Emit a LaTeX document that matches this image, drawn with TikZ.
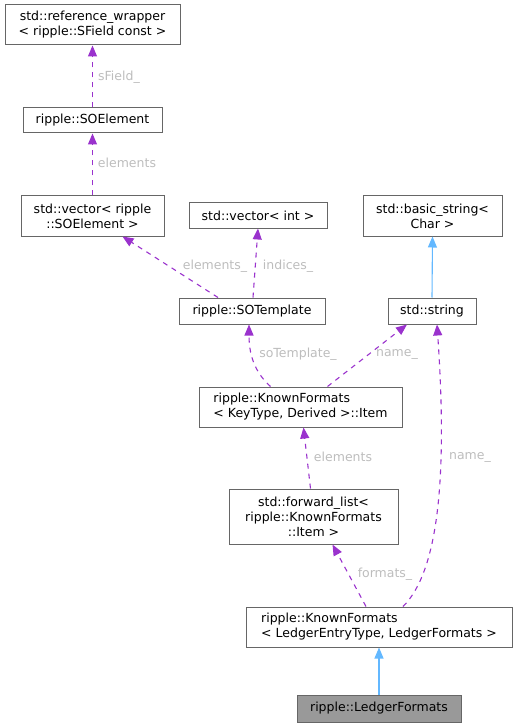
\documentclass[tikz,border=0pt]{standalone}
\usepackage{fontspec}
\setmainfont{DejaVu Sans}
\usepackage{xcolor}
\usepackage{tikz}
\usetikzlibrary{arrows.meta,positioning,calc}

\definecolor{edgepurple}{HTML}{9A32CD}
\definecolor{edgeblue}{HTML}{63B8FF}
\definecolor{boxgray}{HTML}{666666}
\definecolor{lblgray}{HTML}{BDBDBD}
\definecolor{curfill}{HTML}{999999}

\tikzset{
  cls/.style={draw=boxgray, line width=1pt, fill=white, inner sep=0pt, align=center,
    font=\fontsize{12.5}{15}\selectfont},
  usage/.style={draw=edgepurple, line width=1.1pt, dash pattern=on 5pt off 5pt,
    -{Triangle[length=11pt,width=9pt]}},
  inherit/.style={draw=edgeblue, line width=1.1pt, -{Triangle[length=11pt,width=9pt]}},
  lbl/.style={text=lblgray, inner sep=0pt, font=\fontsize{12.5}{15}\selectfont}
}

\begin{document}
\begin{tikzpicture}[x=1pt,y=-1pt]
    \useasboundingbox (0,0) rectangle (517,727);
    \node[cls, minimum width=175pt, minimum height=40pt] (refwrap) at (92.5,25) {std::reference\_wrapper\\< ripple::SField const >};
    \node[cls, minimum width=139pt, minimum height=25pt] (soelem) at (92.5,120.5) {ripple::SOElement};
    \node[cls, minimum width=143pt, minimum height=40pt] (vecsoelem) at (92.5,216) {std::vector< ripple\\::SOElement >};
    \node[cls, minimum width=138pt, minimum height=25pt] (vecint) at (258,215.5) {std::vector< int >};
    \node[cls, minimum width=139pt, minimum height=40pt] (basicstr) at (432.5,216) {std::basic\_string<\\Char >};
    \node[cls, minimum width=146pt, minimum height=26pt] (sotemplate) at (252,311) {ripple::SOTemplate};
    \node[cls, minimum width=88pt, minimum height=26pt] (stdstring) at (432,311) {std::string};
    \node[cls, align=left, minimum width=203pt, minimum height=40pt] (kfitem) at (300.5,407) {ripple::KnownFormats\\< KeyType, Derived >::Item};
    \node[cls, minimum width=169pt, minimum height=55pt] (fwdlist) at (313.5,516.5) {std::forward\_list<\\ripple::KnownFormats\\::Item >};
    \node[cls, align=left, minimum width=266pt, minimum height=40pt] (kfledger) at (379,627) {ripple::KnownFormats\\< LedgerEntryType, LedgerFormats >};
    \node[cls, fill=curfill, minimum width=164pt, minimum height=27pt] (ledger) at (379,708.5) {ripple::LedgerFormats};

    \draw[usage] (soelem.north) -- (refwrap.south);
    \draw[usage] (vecsoelem.north) -- (soelem.south);
    \draw[usage] ([xshift=-34pt]sotemplate.north) -- ([xshift=30pt]vecsoelem.south);
    \draw[usage] ([xshift=1pt]sotemplate.north) -- (vecint.south);
    \draw[usage] ([xshift=-30pt]kfitem.north) .. controls (258,375) and (249,360) .. ([xshift=-3pt]sotemplate.south);
    \draw[usage] ([xshift=27pt]kfitem.north) -- ([xshift=-25pt]stdstring.south);
    \draw[inherit] (stdstring.north) -- (basicstr.south);
    \draw[usage] ([xshift=-3pt]fwdlist.north) -- ([xshift=3pt]kfitem.south);
    \draw[usage] ([xshift=-13pt]kfledger.north) -- ([xshift=19pt]fwdlist.south);
    \draw[usage] ([xshift=24pt]kfledger.north) .. controls (440,570) and (447,470) .. ([xshift=5pt]stdstring.south);
    \draw[inherit] (ledger.north) -- (kfledger.south);

    \node[lbl] (lsfield) at (119,77) {sField\_};
    \node[lbl] (lelem) at (127,163) {elements};
    \node[lbl] (lelemu) at (215,266) {elements\_};
    \node[lbl] (lindices) at (288,266) {indices\_};
    \node[lbl] (lsotempl) at (298,354) {soTemplate\_};
    \node[lbl] (lname) at (397,354) {name\_};
    \node[lbl] (lelemfl) at (343,457) {elements};
    \node[lbl] (lnamer) at (470,457) {name\_};
    \node[lbl] (lformats) at (385,574) {formats\_};
\end{tikzpicture}
\end{document}
